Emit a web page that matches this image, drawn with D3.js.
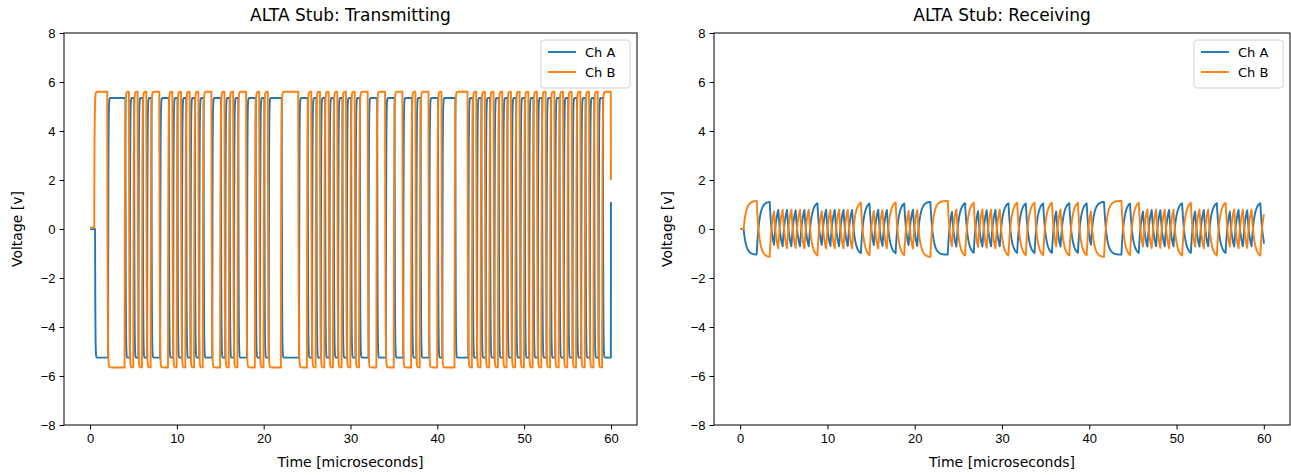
<!DOCTYPE html>
<html>
<head>
<meta charset="utf-8">
<script src="https://cdn.jsdelivr.net/npm/d3@7"></script>
<style>
  body { margin: 0; background: #fff; }
  svg { display: block; font-family: "DejaVu Sans", sans-serif; }
  .tick text { font-size: 13px; fill: #000; }
  .tick line, .domain { stroke: #000; }
</style>
</head>
<body>
<div id="chart"></div>
<script>
// 1553 words: 16 data bits + parity per word
var txSyncs = ["cmd", "data", "data"];
var txWord1 = [0, 0, 0, 0, 1, 0, 0, 0, 0, 0, 1, 0, 0, 0, 1, 0, 0];
var txWord2 = [1, 0, 0, 0, 0, 0, 0, 0, 1, 0, 1, 0, 1, 0, 0, 1, 0];
var txWord3 = [0, 0, 0, 0, 0, 0, 0, 0, 0, 0, 0, 0, 0, 0, 0, 0, 1];

var rxSyncs = ["cmd", "data", "data"];
var rxWord1 = [1, 1, 1, 1, 1, 0, 0, 0, 0, 0, 1, 0, 0, 0, 1, 0, 0];
var rxWord2 = [1, 1, 0, 1, 1, 1, 1, 0, 1, 0, 1, 0, 1, 1, 0, 1, 0];
var rxWord3 = [1, 0, 1, 1, 1, 1, 1, 0, 1, 1, 1, 0, 1, 1, 1, 1, 0];

// start of first sync and bit time [microseconds]
var txTiming = [0.485, 1.0];
var rxTiming = [0.4, 0.995];

// lag of each channel behind the bit clock [microseconds]: Ch A, Ch B
var txDelay = [0.1, 0];
var rxDelay = [0, 0];

// high / low voltage of each channel
var txLevelsA = [5.35, -5.25];
var txLevelsB = [5.6, -5.65];
var rxLevelsA = [1.12, -1.05];
var rxLevelsB = [1.15, -1.15];

// first and last sample [v]: Ch A, Ch B
var txFirst = [0, 0.05];
var txLast = [1.1, 2.0];
var rxFirst = [0, 0];
var rxLast = [-0.6, 0.6];

// settling time constant of the edges [microseconds]: Ch A, Ch B
var txTau = [0.03, 0.04];
var rxTau = [0.3, 0.3];

var channels = ["Ch A", "Ch B"];
var colors = ["#1f77b4", "#ff7f0e"];
var xTicks = [0, 10, 20, 30, 40, 50, 60];
var yTicks = [-8, -6, -4, -2, 0, 2, 4, 6, 8];

// half-bit levels of Ch B (+1 high, -1 low)
function manchester( words, syncs ) {
  var half = [];
  words.forEach( function ( w, i ) {
    half = half.concat( syncs[i] === "cmd" ? [1, 1, 1, -1, -1, -1] : [-1, -1, -1, 1, 1, 1] );
    w.forEach( function ( b ) {
      half = half.concat( b ? [1, -1] : [-1, 1] );
    } );
  } );
  return half;
}

// sampled trace of one channel following the half-bit levels
function trace( half, timing, delay, levels, sign, tau, v0, vEnd ) {
  var pts = [];
  var v = v0;
  var dt = 0.01;
  var start = timing[0] + delay;
  for ( var i = 0; i < 6000; i++ ) {
    var t = i / 100;
    var k = Math.floor( ( t - start ) / ( timing[1] / 2 ) );
    if ( t >= start && k < half.length ) {
      var target = half[k] * sign > 0 ? levels[0] : levels[1];
      v = target + ( v - target ) * Math.exp( -dt / tau );
    }
    pts.push( [t, v] );
  }
  pts.push( [60, vEnd] );
  return pts;
}

var txHalf = manchester( [txWord1, txWord2, txWord3], txSyncs );
var rxHalf = manchester( [rxWord1, rxWord2, rxWord3], rxSyncs );

var panels = [
  {
    title: "ALTA Stub: Transmitting",
    left: 64, right: 637,
    series: [
      trace( txHalf, txTiming, txDelay[0], txLevelsA, -1, txTau[0], txFirst[0], txLast[0] ),
      trace( txHalf, txTiming, txDelay[1], txLevelsB, 1, txTau[1], txFirst[1], txLast[1] )
    ]
  },
  {
    title: "ALTA Stub: Receiving",
    left: 714, right: 1290,
    series: [
      trace( rxHalf, rxTiming, rxDelay[0], rxLevelsA, -1, rxTau[0], rxFirst[0], rxLast[0] ),
      trace( rxHalf, rxTiming, rxDelay[1], rxLevelsB, 1, rxTau[1], rxFirst[1], rxLast[1] )
    ]
  }
];

var width = 1291;
var height = 475;
var plotTop = 33;
var plotBottom = 425;

var svg = d3.select( "#chart" ).append( "svg" )
  .attr( "width", width )
  .attr( "height", height );

panels.forEach( function ( p ) {
  var w = p.right - p.left;
  var h = plotBottom - plotTop;
  var x = d3.scaleLinear().domain( [-3, 63] ).range( [0, w] );
  var y = d3.scaleLinear().domain( [-8, 8] ).range( [h, 0] );

  var g = svg.append( "g" ).attr( "transform", "translate(" + p.left + "," + plotTop + ")" );

  var line = d3.line()
    .x( function ( d ) { return x( d[0] ); } )
    .y( function ( d ) { return y( d[1] ); } );

  p.series.forEach( function ( s, i ) {
    g.append( "path" )
      .datum( s )
      .attr( "fill", "none" )
      .attr( "stroke", colors[i] )
      .attr( "stroke-width", 1.9 )
      .attr( "stroke-linejoin", "round" )
      .attr( "d", line );
  } );

  // axes
  g.append( "g" )
    .attr( "transform", "translate(0," + h + ")" )
    .call( d3.axisBottom( x ).tickValues( xTicks ).tickSize( 4.5 ).tickPadding( 4 ).tickSizeOuter( 0 ) )
    .select( ".domain" ).remove();
  g.append( "g" )
    .call( d3.axisLeft( y ).tickValues( yTicks ).tickSize( 4.5 ).tickPadding( 4 ).tickSizeOuter( 0 ) )
    .select( ".domain" ).remove();

  g.append( "rect" )
    .attr( "width", w )
    .attr( "height", h )
    .attr( "fill", "none" )
    .attr( "stroke", "#000" )
    .attr( "stroke-width", 1 );

  // labels
  g.append( "text" )
    .attr( "x", w / 2 )
    .attr( "y", -12 )
    .attr( "text-anchor", "middle" )
    .style( "font-size", "17px" )
    .text( p.title );
  g.append( "text" )
    .attr( "x", w / 2 )
    .attr( "y", h + 42 )
    .attr( "text-anchor", "middle" )
    .style( "font-size", "14px" )
    .text( "Time [microseconds]" );
  g.append( "text" )
    .attr( "transform", "translate(-42," + ( h / 2 ) + ") rotate(-90)" )
    .attr( "text-anchor", "middle" )
    .style( "font-size", "14px" )
    .text( "Voltage [v]" );

  // legend
  var lg = g.append( "g" ).attr( "transform", "translate(" + ( w - 96 ) + ",7)" );
  lg.append( "rect" )
    .attr( "width", 89 )
    .attr( "height", 48 )
    .attr( "rx", 3 )
    .attr( "fill", "#fff" )
    .attr( "fill-opacity", 0.8 )
    .attr( "stroke", "#d0d0d0" );
  channels.forEach( function ( c, i ) {
    lg.append( "line" )
      .attr( "x1", 7 ).attr( "x2", 35 )
      .attr( "y1", 12 + i * 20 ).attr( "y2", 12 + i * 20 )
      .attr( "stroke", colors[i] )
      .attr( "stroke-width", 1.9 );
    lg.append( "text" )
      .attr( "x", 44 )
      .attr( "y", 12 + i * 20 )
      .attr( "dy", "0.35em" )
      .style( "font-size", "13px" )
      .text( c );
  } );
} );
</script>
</body>
</html>
